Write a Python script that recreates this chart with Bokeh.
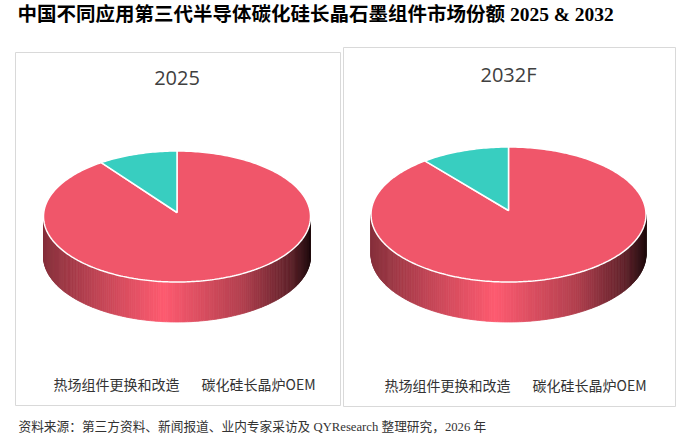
import numpy as np
from bokeh.plotting import figure
from bokeh.models import Range1d
from bokeh.core.properties import value
from bokeh.embed import file_html
from bokeh.resources import INLINE

# ---------------- data ----------------
title_text = "中国不同应用第三代半导体碳化硅长晶石墨组件市场份额 2025 & 2032"
years = ["2025", "2032F"]
categories = ["热场组件更换和改造", "碳化硅长晶炉OEM"]
share_2025 = [90.4, 9.6]
share_2032 = [89.6, 10.4]
slice_colors = ["#F0566A", "#38CEC0"]
source_text = "资料来源：第三方资料、新闻报道、业内专家采访及 QYResearch 整理研究，2026 年"

shares = [share_2025, share_2032]

# ---------------- layout (reference pixel space) ----------------
W, H = 682, 437
panels = [
    dict(box=(15, 340, 52, 405), cx=176.5, cy=216.0, rx=133.5, ry=65.5, depth=40,
         title_y=77.5, legend_y=383, legend_x=(116, 258)),
    dict(box=(343, 675, 47, 406), cx=508.0, cy=214.0, rx=137.5, ry=67.5, depth=40,
         title_y=73.5, legend_y=384, legend_x=(447, 589)),
]

p = figure(width=W, height=H, output_backend="svg", toolbar_location=None,
           x_range=Range1d(0, W), y_range=Range1d(H, 0),
           min_border=0, outline_line_color=None)
p.axis.visible = False
p.grid.visible = False
p.background_fill_color = "white"


def hex_to_rgb(h):
    h = h.lstrip("#")
    return np.array([int(h[i:i + 2], 16) for i in (0, 2, 4)], dtype=float)


def rgb_to_hex(c):
    c = np.clip(c, 0, 255).astype(int)
    return "#%02x%02x%02x" % tuple(c)


shade_u = [-1.0, -0.6, -0.1, 0.5, 0.85, 1.0]
shade_f = [0.56, 0.80, 1.06, 0.74, 0.40, 0.14]

for pan, vals, yr in zip(panels, shares, years):
    l, r, t, b = pan["box"]
    p.quad(left=[l], right=[r], top=[t], bottom=[b], fill_color="white",
           line_color="#D9D9D9", line_width=1)

    cx, cy, rx, ry, d = pan["cx"], pan["cy"], pan["rx"], pan["ry"], pan["depth"]
    total = float(sum(vals))
    # slices: start at 12 o'clock, clockwise
    bounds = []
    a = np.pi / 2
    for v in vals:
        a2 = a - 2 * np.pi * v / total
        bounds.append((a, a2))
        a = a2

    def slice_of(theta):
        for i, (a1, a2) in enumerate(bounds):
            tt = theta
            while tt > a1:
                tt -= 2 * np.pi
            while tt < a2:
                tt += 2 * np.pi
            if a2 <= tt <= a1:
                return i
        return 0

    # side wall (front half)
    n = 180
    th = np.linspace(np.pi, 2 * np.pi, n + 1)
    xs, ys, cols = [], [], []
    for i in range(n):
        t1, t2 = th[i], th[i + 1]
        x1, x2 = cx + rx * np.cos(t1), cx + rx * np.cos(t2)
        y1, y2 = cy - ry * np.sin(t1), cy - ry * np.sin(t2)
        xs.append([x1, x2, x2, x1])
        ys.append([y1, y2, y2 + d, y1 + d])
        u = np.cos((t1 + t2) / 2)
        f = np.interp(u, shade_u, shade_f)
        k = slice_of((t1 + t2) / 2)
        cols.append(rgb_to_hex(hex_to_rgb(slice_colors[k]) * f))
    p.patches(xs=xs, ys=ys, fill_color=cols, line_color=cols, line_width=0.8)

    # top surface slices
    apx, apy = cx, cy - 4
    txs, tys = [], []
    for (a1, a2) in bounds:
        m = max(3, int(abs(a1 - a2) / (2 * np.pi) * 360))
        tt = np.linspace(a1, a2, m)
        txs.append([apx] + list(cx + rx * np.cos(tt)))
        tys.append([apy] + list(cy - ry * np.sin(tt)))
    p.patches(xs=txs, ys=tys, fill_color=slice_colors, line_color="white",
              line_width=1.5)

    # panel title
    p.text(x=[cx], y=[pan["title_y"]], text=[yr], text_align="center",
           text_baseline="middle", text_font=value("Open Sans"),
           text_font_size="20px", text_color="#404040")

    # legend (text only, as in the reference)
    p.text(x=list(pan["legend_x"]), y=[pan["legend_y"]] * 2, text=categories,
           text_align="center", text_baseline="middle",
           text_font=value("Noto Sans CJK SC"), text_font_size="14px",
           text_color="#333333")

# main title
p.text(x=[17], y=[14], text=[title_text], text_align="left",
       text_baseline="middle", text_font=value("Liberation Serif, Noto Sans CJK SC"),
       text_font_size="19.5px", text_font_style="bold", text_color="#000000")

# source
p.text(x=[18], y=[426], text=[source_text], text_align="left",
       text_baseline="middle", text_font=value("Liberation Serif, Noto Sans CJK SC"),
       text_font_size="12.7px", text_color="#333333")

open("out.html", "w").write(file_html(p, INLINE))
